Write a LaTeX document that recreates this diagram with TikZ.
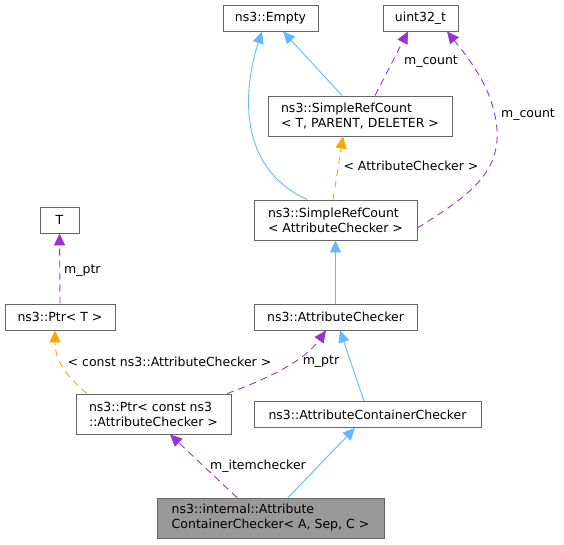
\documentclass[tikz,border=0pt]{standalone}
\usepackage{fontspec}
\setmainfont{DejaVu Sans}
\usetikzlibrary{arrows.meta}
\definecolor{boxline}{HTML}{666666}
\definecolor{boxfill}{HTML}{999999}
\definecolor{inhblue}{HTML}{63B8FF}
\definecolor{usepurple}{HTML}{9A32CD}
\definecolor{tmplorange}{HTML}{FFA500}
\tikzset{
  cls/.style={draw=boxline, line width=0.9pt, fill=white, inner sep=0pt, align=left,
    font=\fontsize{12.5}{15}\selectfont},
  inh/.style={draw=inhblue, line width=0.9pt, -{Triangle[length=12pt,width=11pt]}},
  usage/.style={draw=usepurple, line width=0.9pt, dash pattern=on 7pt off 5pt, -{Triangle[length=12pt,width=11pt]}},
  tmpl/.style={draw=tmplorange, line width=0.9pt, dash pattern=on 7pt off 5pt, -{Triangle[length=12pt,width=11pt]}},
  lbl/.style={inner sep=0pt, font=\fontsize{12.5}{15}\selectfont},
}
\begin{document}
\begin{tikzpicture}[x=1pt,y=-1pt]
\useasboundingbox (0,0) rectangle (564,544);
% nodes
\node[cls, minimum width=95pt, minimum height=26pt] (empty) at (270.5,18) {ns3::Empty};
\node[cls, minimum width=75pt, minimum height=26pt] (uint) at (420.5,18) {uint32\_t};
\node[cls, minimum width=184pt, minimum height=40pt] (srcT) at (360,116) {ns3::SimpleRefCount\\< T, PARENT, DELETER >};
\node[cls, minimum width=163pt, minimum height=40pt] (srcAC) at (335.5,220) {ns3::SimpleRefCount\\< AttributeChecker >};
\node[cls, minimum width=39pt, minimum height=26pt] (T) at (59.5,220) {T};
\node[cls, minimum width=110pt, minimum height=26pt] (ptrT) at (60,317) {ns3::Ptr< T >};
\node[cls, minimum width=163pt, minimum height=26pt] (ac) at (335.5,317) {ns3::AttributeChecker};
\node[cls, minimum width=155pt, minimum height=40pt] (ptrAC) at (153.5,414) {ns3::Ptr< const ns3\\::AttributeChecker >};
\node[cls, minimum width=227pt, minimum height=26pt] (acc) at (367.5,414.5) {ns3::AttributeContainerChecker};
\node[cls, fill=boxfill, minimum width=227pt, minimum height=40pt] (internal) at (270.5,518) {ns3::internal::Attribute\\ContainerChecker< A, Sep, C >};
% edges
\draw[inh] ([xshift=-28.5pt]srcAC.north) .. controls (232,165) and (246,80) .. ([xshift=-8.5pt]empty.south);
\draw[inh] ([xshift=-18pt]srcT.north) -- ([xshift=12.5pt]empty.south);
\draw[usage] ([xshift=15pt]srcT.north) -- ([xshift=-12.5pt]uint.south);
\node[lbl] (lcount1) at (431,62) {m\_count};
\draw[usage] ([yshift=-8pt]srcAC.east) .. controls (465,198) and (500,175) .. (497,130) .. controls (494,90) and (470,60) .. ([xshift=26.5pt]uint.south);
\node[lbl] (lcount2) at (528,115) {m\_count};
\draw[tmpl] ([xshift=-2.5pt]srcAC.north) -- ([xshift=-17pt]srcT.south);
\node[lbl] (lac) at (411,166) {< AttributeChecker >};
\draw[inh] (ac.north) -- (srcAC.south);
\draw[inh] ([xshift=-3.5pt]acc.north) -- ([xshift=4.5pt]ac.south);
\draw[usage] (ptrT.north) -- (T.south);
\node[lbl, anchor=west] (lptr1) at (64,271) {m\_ptr};
\draw[tmpl] ([xshift=-66.5pt]ptrAC.north) .. controls (65,375) and (55,360) .. ([xshift=-5pt]ptrT.south);
\node[lbl] (lconst) at (169.5,362) {< const ns3::AttributeChecker >};
\draw[usage] ([xshift=73.5pt]ptrAC.north) .. controls (270,378) and (305,360) .. ([xshift=-9.5pt]ac.south);
\node[lbl] (lptr2) at (321,362) {m\_ptr};
\draw[usage] ([xshift=-33.5pt]internal.north) -- ([xshift=16.5pt]ptrAC.south);
\node[lbl] (litem) at (258,466) {m\_itemchecker};
\draw[inh] ([xshift=17.5pt]internal.north) -- ([xshift=-12.5pt]acc.south);
\end{tikzpicture}
\end{document}
